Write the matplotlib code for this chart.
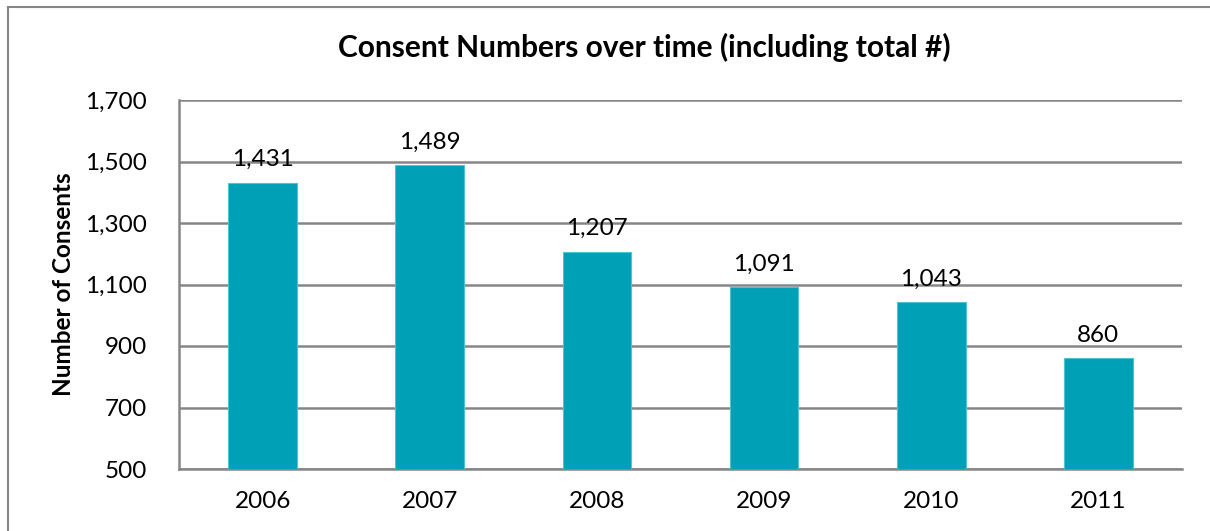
import matplotlib.pyplot as plt
from matplotlib.patches import Rectangle
from matplotlib.ticker import FuncFormatter

years = ["2006", "2007", "2008", "2009", "2010", "2011"]
consents = [1431, 1489, 1207, 1091, 1043, 860]
y_ticks = [500, 700, 900, 1100, 1300, 1500, 1700]

plt.rcParams["font.family"] = ["Lato", "DejaVu Sans"]

fig = plt.figure(figsize=(12.1, 5.31), dpi=100)
ax = fig.add_axes([179 / 1210, 1 - 469 / 531, 1003 / 1210, 369 / 531])

x = range(len(years))
bars = ax.bar(x, consents, width=0.41, color="#00A0B6", edgecolor="#4FC3D3",
              linewidth=0.8, zorder=3)

for xi, v in zip(x, consents):
    ax.annotate(f"{v:,}", (xi, v), xytext=(0, 9), textcoords="offset points",
                ha="center", va="bottom", fontsize=17.5, color="black")

ax.set_xlim(-0.5, len(years) - 0.5)
ax.set_ylim(500, 1700)
ax.set_yticks(y_ticks)
ax.yaxis.set_major_formatter(FuncFormatter(lambda v, p: f"{int(v):,}"))
ax.set_xticks(list(x))
ax.set_xticklabels(years)
ax.tick_params(axis="both", length=0, labelsize=17.5)
ax.tick_params(axis="x", pad=16)
ax.tick_params(axis="y", pad=23)
ax.grid(axis="y", color="#868686", linewidth=1.8, zorder=0)

for side in ["top", "right"]:
    ax.spines[side].set_visible(False)
for side in ["left", "bottom"]:
    ax.spines[side].set_color("#868686")
    ax.spines[side].set_linewidth(1.8)

ax.set_ylabel("Number of Consents", fontsize=17.5, fontweight="bold")
ax.yaxis.set_label_coords(-104 / 1003, 0.5)

fig.text(0.5 * (338 + 950) / 1210, 1 - 47 / 531,
         "Consent Numbers over time (including total #)",
         ha="center", va="center", fontsize=21.5, fontweight="bold")

# outer chart border
border = Rectangle((8 / 1210, -0.1), 1.2, 1 - 7 / 531 + 0.1, transform=fig.transFigure,
                   fill=False, edgecolor="#868686", linewidth=1.5)
fig.patches.append(border)

fig.savefig("out.png", dpi=100)
